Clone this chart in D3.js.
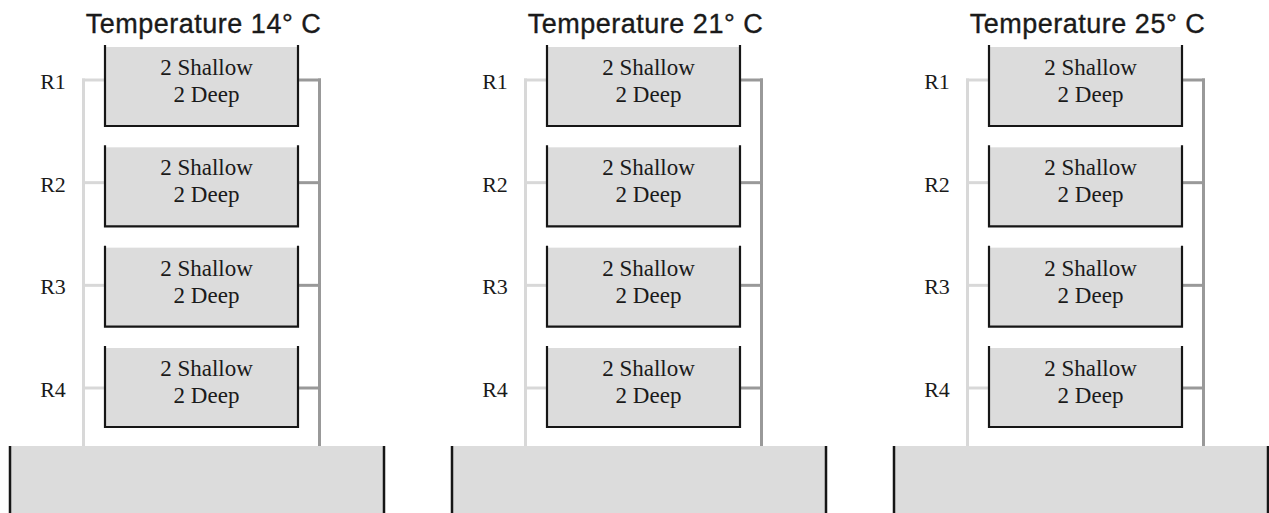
<!DOCTYPE html>
<html>
<head>
<meta charset="utf-8">
<script src="https://cdn.jsdelivr.net/npm/d3@7"></script>
<style>
  html, body { margin: 0; padding: 0; background: #fff; overflow: hidden; }
  .title { font-family: 'Liberation Sans', Arial, sans-serif; font-size: 27px; fill: #1a1a1a; stroke: #1a1a1a; stroke-width: 0.35px; letter-spacing: 0.5px; }
  .lbl { font-family: 'Liberation Serif', 'Times New Roman', serif; font-size: 23px; fill: #1a1a1a; }
  .rep { font-family: 'Liberation Serif', 'Times New Roman', serif; font-size: 22px; fill: #1a1a1a; }
</style>
</head>
<body>
<div class="root"></div>
<script>
// one panel per temperature, four replicate tanks each
var temperatures = [14, 21, 25];
var replicates = ['R1', 'R2', 'R3', 'R4'];
var shallowCounts = [2, 2, 2, 2];
var deepCounts = [2, 2, 2, 2];

function runDiagram() {
  var w = 1269;
  var h = 513;

  var svg = d3.select('.root').append('svg')
    .attr('width', w)
    .attr('height', h);

  var x = d3.scalePoint()
    .domain(temperatures)
    .range([201.5, 1085.5]);

  var yTank = d3.scalePoint()
    .domain(replicates)
    .range([45, 346]);

  var yPipe = d3.scalePoint()
    .domain(replicates)
    .range([80, 388]);

  var tankHalf = 96.5;
  var tankH = 81;
  var pipeOff = 118;
  var sumpTop = 446;
  var wall = '#161616';
  var fill = '#dcdcdc';
  var inPipe = '#d8d8d8';
  var outPipe = '#999999';

  var panels = svg.selectAll('g.panel')
    .data(temperatures)
    .enter().append('g')
      .attr('class', 'panel')
      .attr('transform', function(d) { return 'translate(' + x(d) + ',0)'; });

  // big sump tank at the bottom
  panels.append('rect')
    .attr('x', -191.5)
    .attr('y', sumpTop)
    .attr('width', 374)
    .attr('height', h - sumpTop + 5)
    .attr('fill', fill);

  panels.append('path')
    .attr('d', 'M-191.5,' + sumpTop + 'V' + (h + 5) + 'M182.5,' + sumpTop + 'V' + (h + 5))
    .attr('fill', 'none')
    .attr('stroke', wall)
    .attr('stroke-width', 2.5);

  // supply line (left) and return line (right)
  panels.append('line')
    .attr('x1', -pipeOff).attr('x2', -pipeOff)
    .attr('y1', yPipe(replicates[0]) - 1.5).attr('y2', sumpTop)
    .attr('stroke', inPipe)
    .attr('stroke-width', 3);

  panels.append('line')
    .attr('x1', pipeOff).attr('x2', pipeOff)
    .attr('y1', yPipe(replicates[0]) - 1.5).attr('y2', sumpTop)
    .attr('stroke', outPipe)
    .attr('stroke-width', 3);

  panels.append('text')
    .attr('class', 'title')
    .attr('x', 2)
    .attr('y', 33)
    .attr('text-anchor', 'middle')
    .text(function(d) { return 'Temperature ' + d + '\u00b0 C'; });

  var tanks = panels.selectAll('g.tank')
    .data(replicates.map(function(r, i) {
      return {rep: r, shallow: shallowCounts[i], deep: deepCounts[i]};
    }))
    .enter().append('g')
      .attr('class', 'tank');

  tanks.append('line')
    .attr('x1', -pipeOff - 1.5).attr('x2', -tankHalf)
    .attr('y1', function(d) { return yPipe(d.rep); })
    .attr('y2', function(d) { return yPipe(d.rep); })
    .attr('stroke', inPipe)
    .attr('stroke-width', 3);

  tanks.append('line')
    .attr('x1', tankHalf).attr('x2', pipeOff + 1.5)
    .attr('y1', function(d) { return yPipe(d.rep); })
    .attr('y2', function(d) { return yPipe(d.rep); })
    .attr('stroke', outPipe)
    .attr('stroke-width', 3);

  tanks.append('rect')
    .attr('x', -tankHalf)
    .attr('y', function(d) { return yTank(d.rep) + 2; })
    .attr('width', tankHalf * 2)
    .attr('height', tankH - 2)
    .attr('fill', fill);

  tanks.append('path')
    .attr('d', function(d) {
      var t = yTank(d.rep);
      return 'M' + (-tankHalf) + ',' + t + 'V' + (t + tankH) + 'H' + tankHalf + 'V' + t;
    })
    .attr('fill', 'none')
    .attr('stroke', wall)
    .attr('stroke-width', 2.2);

  tanks.append('text')
    .attr('class', 'lbl')
    .attr('x', 5)
    .attr('y', function(d) { return yTank(d.rep) + 30; })
    .attr('text-anchor', 'middle')
    .text(function(d) { return d.shallow + ' Shallow'; });

  tanks.append('text')
    .attr('class', 'lbl')
    .attr('x', 5)
    .attr('y', function(d) { return yTank(d.rep) + 57; })
    .attr('text-anchor', 'middle')
    .text(function(d) { return d.deep + ' Deep'; });

  tanks.append('text')
    .attr('class', 'rep')
    .attr('x', -148.5)
    .attr('y', function(d) { return yPipe(d.rep) + 9; })
    .attr('text-anchor', 'middle')
    .text(function(d) { return d.rep; });
}

window.onload = function() {
  runDiagram();
}
</script>
</body>
</html>
